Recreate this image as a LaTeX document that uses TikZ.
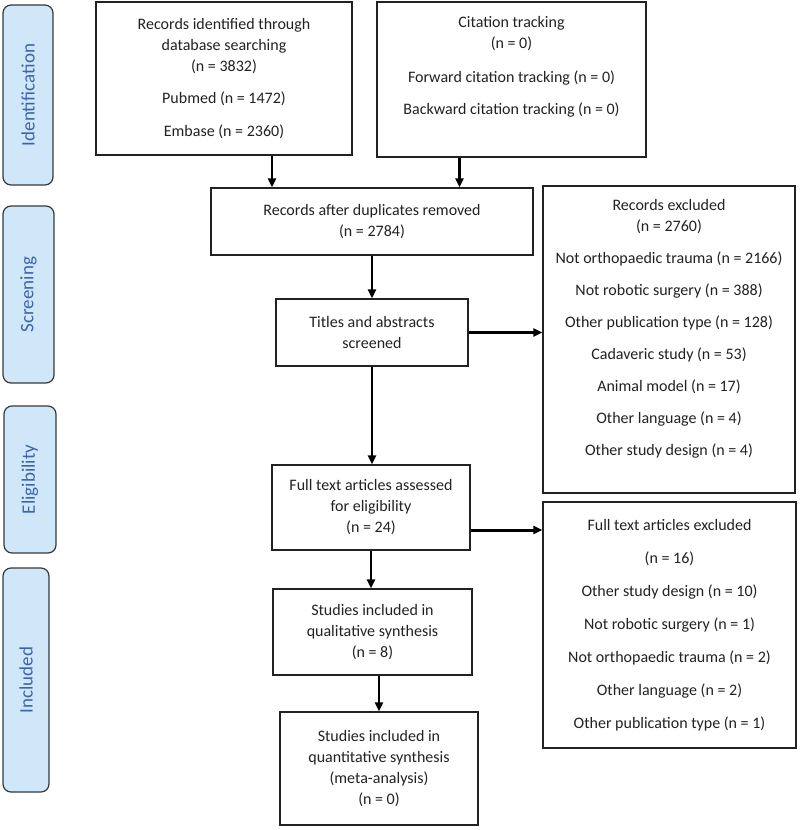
\documentclass[tikz,border=0pt]{standalone}
\usepackage{fontspec}
\setmainfont{Carlito}
\usetikzlibrary{arrows.meta}

\definecolor{phasefill}{HTML}{CFE7F9}
\definecolor{phasetext}{HTML}{3B64AD}
\definecolor{ink}{HTML}{222222}

\tikzset{
  box/.style={draw=ink, line width=1.2pt, fill=white, align=center, inner sep=0pt,
    text=ink, font=\fontsize{16}{21}\selectfont},
  phase/.style={draw=ink!90, line width=1.2pt, fill=phasefill, rounded corners=8pt,
    rotate=90, inner sep=0pt, text=phasetext, font=\fontsize{19}{22}\selectfont},
  arr/.style={-{Triangle[length=9pt,width=8pt]}, line width=2pt, draw=black},
  thickarr/.style={arr, line width=3pt},
}

\begin{document}
\begin{tikzpicture}[x=1pt,y=-1pt]
\useasboundingbox (0,0) rectangle (800,830);

% fases
\node[phase, minimum width=180, minimum height=50] (ident) at (28,95) {Identification};
\node[phase, minimum width=177, minimum height=51] (screen) at (28.5,294.5) {Screening};
\node[phase, minimum width=147, minimum height=52] (elig) at (30,479.5) {Eligibility};
\node[phase, minimum width=224, minimum height=46] (incl) at (26,680) {Included};

% caixas
\node[box, minimum width=256, minimum height=153] (search) at (224,78.5)
  {Records identified through\\ database searching\\ (n = 3832)\\[11.5pt]
   Pubmed (n = 1472)\\[11.5pt] Embase (n = 2360)};
\node[box, minimum width=269, minimum height=155] (cite) at (511.5,79.5)
  {Citation tracking\\ (n = 0)\\[13pt] Forward citation tracking (n = 0)\\[11pt]
   Backward citation tracking (n = 0)\\[7pt]\mbox{}};
\node[box, minimum width=322, minimum height=67] (dups) at (372,221.5)
  {Records after duplicates removed\\ (n = 2784)};
\node[box, minimum width=192, minimum height=67] (titles) at (372,332.5)
  {Titles and abstracts\\ screened};
\node[box, minimum width=252, minimum height=307] (excl1) at (669,339.5)
  {Records excluded\\ (n = 2760)\\[11.5pt] Not orthopaedic trauma (n = 2166)\\[11pt]
   Not robotic surgery (n = 388)\\[11pt] Other publication type (n = 128)\\[11pt]
   Cadaveric study (n = 53)\\[11pt] Animal model (n = 17)\\[11pt]
   Other language (n = 4)\\[11pt] Other study design (n = 4)\\[3pt]\mbox{}};
\node[box, minimum width=198, minimum height=85] (fulltext) at (371,507.5)
  {Full text articles assessed\\ for eligibility\\ (n = 24)};
\node[box, minimum width=253, minimum height=246] (excl2) at (669.5,625)
  {Full text articles excluded\\[12pt] (n = 16)\\[12pt] Other study design (n = 10)\\[12pt]
   Not robotic surgery (n = 1)\\[12pt] Not orthopaedic trauma (n = 2)\\[12pt]
   Other language (n = 2)\\[12pt] Other publication type (n = 1)};
\node[box, minimum width=199, minimum height=86] (qual) at (372.5,632)
  {Studies included in\\ qualitative synthesis\\ (n = 8)};
\node[box, minimum width=198, minimum height=113] (quant) at (379,768.5)
  {Studies included in\\ quantitative synthesis\\ (meta-analysis)\\ (n = 0)};

% setas
\draw[arr] ([xshift=48pt]search.south) -- ([xshift=48pt]search.south |- dups.north);
\draw[thickarr] ([xshift=-52pt]cite.south) -- ([xshift=-52pt]cite.south |- dups.north);
\draw[arr] (dups.south) -- (titles.north);
\draw[thickarr] (titles.east) -- (titles.east -| excl1.west);
\draw[arr] (titles.south) -- (titles.south |- fulltext.north);
\draw[thickarr] ([yshift=-22.5pt]fulltext.east) -- ([yshift=-22.5pt]fulltext.east -| excl2.west);
\draw[arr] (fulltext.south) -- (fulltext.south |- qual.north);
\draw[arr] (qual.south -| quant.north) -- (quant.north);

\end{tikzpicture}
\end{document}
